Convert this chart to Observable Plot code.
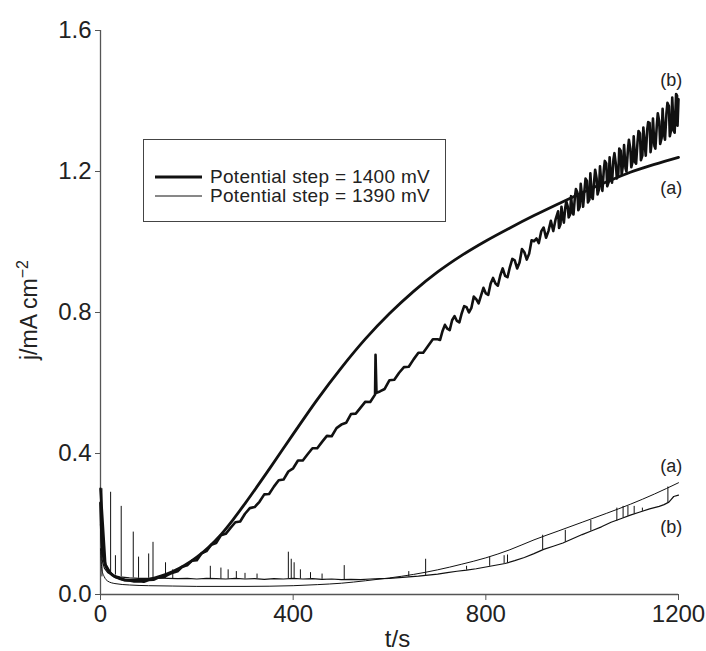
<!DOCTYPE html>
<html><head><meta charset="utf-8">
<script src="https://cdn.jsdelivr.net/npm/d3@7"></script>
<script src="https://cdn.jsdelivr.net/npm/@observablehq/plot@0.6"></script>
<style>
body{margin:0;background:#fff;}
#wrap{position:relative;width:706px;height:651px;font-family:"Liberation Sans",Arial,Helvetica,sans-serif;}
#legend{position:absolute;left:143px;top:139px;width:303px;height:83px;border:1.5px solid #444;box-sizing:border-box;background:#fff;}
.row{position:absolute;left:0;height:20px;line-height:20px;font-size:19px;color:#222;letter-spacing:0.3px;white-space:nowrap;}
.row svg{position:absolute;left:11px;top:0;}
.row span{position:absolute;left:66px;top:0;}
</style></head><body><div id="wrap"></div>
<script>
// ---- axis ticks ----
const xTicks = [0, 400, 800, 1200];
const yTicks = [0, 0.4, 0.8, 1.2, 1.6];

// ---- legend ----
const legendLabels = ["Potential step = 1400 mV", "Potential step = 1390 mV"];
const legendWidths = [3, 1];

// ---- 1400 mV (a): smooth curve [t (s), j (mA cm^-2)] ----
const curve1400a = [[0,0.26],[3,0.15],[8,0.095],[15,0.07],[25,0.055],[40,0.045],[60,0.04],[80,0.04],[100,0.043],[125,0.052],[150,0.065],[175,0.083],[200,0.106],[225,0.135],[250,0.17],[275,0.212],[300,0.258],[350,0.355],[400,0.455],[450,0.553],[500,0.643],[550,0.725],[600,0.797],[650,0.86],[700,0.915],[750,0.962],[800,1.003],[850,1.04],[900,1.075],[950,1.108],[1000,1.14],[1050,1.17],[1100,1.198],[1150,1.22],[1200,1.24]];

// ---- 1400 mV (b): noisy record, one value every 10 s from t = 0 ----
const j1400b = [0.300,0.085,0.062,0.050,0.046,0.041,0.040,0.037,0.038,0.036,
0.041,0.042,0.048,0.049,0.056,0.062,0.066,0.079,0.083,0.096,
0.097,0.117,0.123,0.141,0.146,0.168,0.172,0.189,0.205,0.207,
0.229,0.245,0.248,0.263,0.284,0.285,0.306,0.324,0.326,0.349,
0.358,0.380,0.380,0.398,0.415,0.415,0.433,0.450,0.449,0.472,
0.482,0.487,0.512,0.513,0.530,0.547,0.546,0.567,0.576,0.583,
0.608,0.609,0.629,0.645,0.646,0.667,0.686,0.686,0.705,0.724,
0.724,0.747,0.754,0.778,0.776,0.798,0.815,0.813,0.838,0.848,
0.854,0.882,0.882,0.905,0.904,0.929,0.948,0.942,0.971,0.967,
1.002,0.997,1.041,1.031,1.031,1.087,1.069,1.101,1.083,1.141,
1.127,1.173,1.128,1.180,1.163,1.223,1.180,1.220,1.259,1.209,
1.265,1.226,1.308,1.274,1.338,1.272,1.342,1.304,1.386,1.316,
1.405];
const tStep1400b = 10;
// extra samples of the same record (spikes / jitter between the 10 s values)
const extra1400b = [[571,0.68],[573,0.572],
[705,0.722],[715,0.765],[725,0.750],[735,0.790],[745,0.772],[755,0.818],[765,0.800],[775,0.845],[785,0.826],[795,0.870],
[805,0.850],[815,0.898],[825,0.876],[835,0.925],[845,0.900],[855,0.952],[865,0.925],[875,0.980],[885,0.950],[895,1.005],
[905,1.010],[915,1.030],[925,1.012],[935,1.060],[945,1.065],[955,1.050],[965,1.098],[975,1.078],[985,1.128],[995,1.100],
[1005,1.150],[1015,1.120],[1025,1.175],[1035,1.150],[1045,1.205],[1055,1.170],[1065,1.235],[1075,1.190],[1085,1.222],[1095,1.262],
[1105,1.230],[1115,1.285],[1125,1.245],[1135,1.318],[1145,1.290],[1155,1.332],[1165,1.295],[1175,1.365],[1185,1.320],[1195,1.420],[1198,1.330],
[952,1.040],[957,1.100],[962,1.055],[967,1.115],[972,1.070],[977,1.130],[982,1.078],[987,1.150],[992,1.090],[997,1.165],
[1002,1.100],[1007,1.180],[1012,1.112],[1017,1.195],[1022,1.122],[1027,1.205],[1032,1.135],[1037,1.215],[1042,1.145],[1047,1.230],
[1052,1.158],[1057,1.240],[1062,1.168],[1067,1.252],[1072,1.180],[1077,1.265],[1082,1.190],[1087,1.275],[1092,1.200],[1097,1.290],
[1102,1.212],[1107,1.300],[1112,1.222],[1117,1.315],[1122,1.232],[1127,1.325],[1132,1.245],[1137,1.340],[1142,1.255],[1147,1.350],
[1152,1.265],[1157,1.365],[1162,1.278],[1167,1.378],[1172,1.290],[1177,1.395],[1182,1.300],[1187,1.410],[1192,1.310],[1197,1.415]];

// ---- 1390 mV (a): smooth curve ----
const curve1390a = [[0,0.13],[3,0.07],[8,0.05],[15,0.038],[30,0.031],[60,0.027],[100,0.025],[150,0.024],[200,0.023],[300,0.023],[400,0.025],[450,0.028],[500,0.032],[550,0.039],[600,0.047],[650,0.057],[700,0.07],[750,0.086],[800,0.104],[850,0.127],[900,0.155],[950,0.18],[1000,0.205],[1050,0.23],[1100,0.256],[1150,0.285],[1200,0.317]];

// ---- 1390 mV (b): noisy record base ----
const curve1390b = [[0,0.2],[3,0.1],[8,0.075],[15,0.062],[25,0.055],[40,0.05],[60,0.047],[80,0.046],[100,0.046],[120,0.047],[140,0.046],[160,0.045],[180,0.046],[200,0.044],[220,0.046],[240,0.045],[260,0.044],[280,0.046],[300,0.044],[320,0.045],[340,0.043],[360,0.045],[380,0.044],[400,0.046],[420,0.044],[440,0.045],[460,0.043],[480,0.044],[500,0.042],[520,0.043],[540,0.042],[560,0.044],[580,0.045],[600,0.046],[620,0.048],[640,0.05],[660,0.052],[680,0.055],[700,0.058],[720,0.062],[740,0.066],[760,0.069],[780,0.073],[800,0.078],[820,0.083],[840,0.088],[860,0.096],[880,0.105],[900,0.116],[920,0.128],[940,0.137],[960,0.146],[980,0.158],[1000,0.17],[1020,0.181],[1040,0.192],[1060,0.205],[1080,0.215],[1100,0.225],[1120,0.234],[1140,0.243],[1160,0.25],[1170,0.255],[1180,0.262],[1185,0.27],[1190,0.278],[1200,0.282]];
// spikes of the 1390 mV (b) record: [t, low, high]
const spikes1390b = [[3,0.05,0.30],[21,0.06,0.29],[31,0.055,0.11],[43,0.05,0.25],[68,0.047,0.177],[79,0.046,0.106],[100,0.046,0.115],[109,0.047,0.148],[135,0.046,0.09],[150,0.045,0.07],[228,0.045,0.08],[250,0.044,0.075],[265,0.044,0.07],[282,0.045,0.065],[300,0.044,0.06],[325,0.045,0.058],[390,0.045,0.12],[396,0.045,0.10],[402,0.045,0.09],[415,0.044,0.07],[436,0.045,0.062],[460,0.043,0.058],[506,0.042,0.082],[640,0.05,0.065],[675,0.054,0.10],[760,0.069,0.08],[808,0.08,0.106],[838,0.087,0.11],[845,0.089,0.112],[918,0.127,0.168],[965,0.148,0.182],[1018,0.18,0.21],[1072,0.208,0.245],[1085,0.217,0.25],[1095,0.222,0.25],[1108,0.228,0.25],[1125,0.236,0.245],[1178,0.26,0.305]];

// ---- curve annotations ----
const curveLabels = [
  {t:1185, j:1.458, text:"(b)"},
  {t:1185, j:1.152, text:"(a)"},
  {t:1185, j:0.363, text:"(a)"},
  {t:1185, j:0.190, text:"(b)"}
];

// ---- build tables ----
const rows = pairs => pairs.map(([t, j]) => ({t, j}));
const rows1400b = j1400b.map((j, i) => ({t: i * tStep1400b, j}))
  .concat(rows(extra1400b)).sort((a, b) => a.t - b.t);

const font = '"Liberation Sans", Arial, Helvetica, sans-serif';
const ink = "#111";

const chart = Plot.plot({
  width: 706, height: 651,
  marginLeft: 100, marginRight: 28, marginTop: 30, marginBottom: 57,
  style: {fontFamily: font, fontSize: "24px", color: "#222", background: "white", overflow: "visible"},
  x: {domain: [0, 1200]},
  y: {domain: [0, 1.6]},
  marks: [
    Plot.axisX(xTicks, {tickSize: 6, tickPadding: 4, fontSize: 24, label: null, tickFormat: d => String(d), stroke: "#555"}),
    Plot.axisY(yTicks, {tickSize: 5, tickPadding: 4, fontSize: 24, label: null, tickFormat: d3.format(".1f"), stroke: "#555"}),
    Plot.ruleY([0], {stroke: "#555", strokeWidth: 1.3}),
    Plot.ruleX([0], {stroke: "#555", strokeWidth: 1.3}),
    Plot.line(rows(curve1390a), {x: "t", y: "j", stroke: ink, strokeWidth: 1, curve: "monotone-x"}),
    Plot.line(rows(curve1390b), {x: "t", y: "j", stroke: ink, strokeWidth: 1.2}),
    Plot.ruleX(spikes1390b, {x: d => d[0], y1: d => d[1], y2: d => d[2], stroke: ink, strokeWidth: 1}),
    Plot.line(rows1400b, {x: "t", y: "j", stroke: ink, strokeWidth: 2.6, strokeLinejoin: "round"}),
    Plot.line(rows(curve1400a), {x: "t", y: "j", stroke: ink, strokeWidth: 2.8, curve: "monotone-x"}),
    Plot.text(curveLabels, {x: "t", y: "j", text: "text", fontSize: 18, fill: "#222"}),
    Plot.text(["t/s"], {frameAnchor: "bottom", dy: 52, dx: 8, fontSize: 24, fill: "#222"})
  ]
});

const wrap = document.getElementById("wrap");
wrap.appendChild(chart);

// y-axis title with superscript
const ylab = d3.select(chart).append("text")
  .attr("transform", "translate(37,310) rotate(-90)")
  .attr("text-anchor", "middle")
  .attr("font-size", 23)
  .attr("fill", "#222")
  .attr("font-family", font);
ylab.append("tspan").text("j/mA cm");
ylab.append("tspan").attr("dy", -9).attr("font-size", 16).text("\u22122");

// legend box
const legend = document.createElement("div");
legend.id = "legend";
const rowTops = [27, 46];
legendLabels.forEach((label, i) => {
  const r = document.createElement("div");
  r.className = "row";
  r.style.top = rowTops[i] + "px";
  r.innerHTML = `<svg width="48" height="20"><line x1="0" x2="47" y1="10" y2="10" stroke="${ink}" stroke-width="${legendWidths[i]}"/></svg><span>${label}</span>`;
  legend.appendChild(r);
});
wrap.appendChild(legend);
</script>
</body></html>
